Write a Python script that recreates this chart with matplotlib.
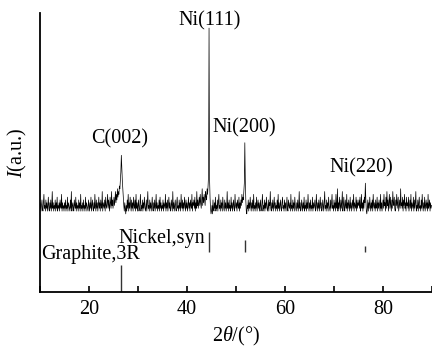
import matplotlib
matplotlib.use('Agg')
import matplotlib.pyplot as plt
import numpy as np

plt.rcParams['font.family'] = ['Liberation Serif', 'DejaVu Serif']
plt.rcParams['mathtext.fontset'] = 'custom'
plt.rcParams['mathtext.rm'] = 'Liberation Serif'
plt.rcParams['mathtext.it'] = 'Liberation Serif:italic'

# XRD pattern, 2theta from 10 to 90 in 0.1 deg steps (one row = 5 deg)
two_theta_start = 10.0
two_theta_step = 0.1
intensity = [
    # 10-15
    30, 32, 29, 31, 33, 30, 29, 32, 35, 30, 31, 29, 33, 30, 32, 29, 31, 34, 30, 29, 32, 30, 33, 29, 31,
    36, 30, 32, 29, 31, 30, 33, 29, 32, 30, 34, 29, 31, 30, 32, 29, 33, 31, 30, 35, 29, 32, 30, 31, 29,
    # 15-20
    32, 30, 33, 29, 31, 30, 34, 29, 32, 31, 30, 29, 33, 30, 36, 29, 31, 32, 30, 29, 33, 31, 30, 34, 29,
    32, 30, 31, 29, 33, 30, 32, 29, 35, 30, 31, 29, 32, 30, 33, 29, 31, 30, 34, 29, 32, 31, 30, 29, 33,
    # 20-25
    31, 29, 32, 30, 34, 29, 31, 33, 30, 29, 32, 30, 35, 31, 29, 33, 30, 32, 29, 31, 34, 30, 32, 29, 33,
    31, 30, 36, 29, 32, 31, 30, 33, 29, 34, 31, 30, 32, 35, 30, 33, 31, 29, 34, 32, 30, 36, 31, 33, 30,
    # 25-30  C(002)
    32, 34, 31, 33, 36, 32, 35, 33, 37, 34, 36, 35, 38, 37, 40, 43, 49, 44, 40, 37, 34, 31, 29, 32, 30,
    28, 31, 29, 33, 30, 35, 29, 32, 30, 34, 31, 29, 33, 30, 32, 29, 34, 31, 30, 33, 29, 35, 30, 32, 29,
    # 30-35
    31, 33, 29, 30, 32, 35, 29, 31, 30, 33, 29, 32, 30, 34, 31, 29, 30, 33, 29, 32, 36, 30, 31, 29, 33,
    30, 32, 29, 31, 34, 30, 29, 32, 30, 33, 29, 31, 35, 30, 32, 29, 31, 30, 33, 29, 34, 30, 32, 29, 31,
    # 35-40
    30, 33, 29, 32, 31, 30, 35, 29, 32, 30, 33, 29, 31, 34, 30, 32, 29, 30, 33, 31, 29, 36, 30, 32, 29,
    31, 33, 30, 29, 32, 34, 30, 31, 29, 33, 30, 32, 29, 35, 31, 30, 33, 29, 32, 30, 34, 31, 29, 33, 30,
    # 40-45  Ni(111)
    32, 29, 31, 34, 30, 32, 29, 33, 31, 30, 35, 29, 32, 31, 33, 30, 34, 29, 32, 30, 36, 31, 33, 30, 32,
    34, 31, 35, 32, 30, 33, 37, 31, 34, 32, 35, 33, 31, 36, 34, 33, 37, 35, 38, 42, 94.6, 41, 34, 30, 28,
    # 45-50
    29, 31, 28, 33, 30, 29, 32, 30, 34, 29, 31, 30, 33, 29, 32, 35, 30, 31, 29, 33, 30, 32, 29, 34, 31,
    30, 29, 33, 30, 32, 29, 31, 36, 30, 32, 29, 33, 30, 31, 29, 34, 30, 32, 29, 31, 33, 30, 29, 35, 31,
    # 50-55  Ni(200)
    30, 32, 29, 33, 31, 30, 34, 29, 32, 30, 33, 31, 35, 32, 34, 33, 36, 39, 53.5, 40, 33, 29, 28, 31, 30,
    33, 29, 32, 30, 34, 31, 29, 32, 30, 33, 29, 35, 30, 31, 29, 32, 30, 34, 29, 31, 33, 30, 32, 29, 31,
    # 55-60
    33, 29, 30, 32, 35, 29, 31, 30, 33, 29, 32, 30, 34, 31, 29, 30, 33, 29, 32, 31, 36, 30, 29, 32, 30,
    33, 29, 31, 34, 30, 32, 29, 31, 30, 33, 29, 35, 30, 32, 29, 31, 33, 30, 29, 32, 34, 30, 31, 29, 33,
    # 60-65
    30, 32, 29, 31, 34, 30, 29, 33, 31, 30, 32, 29, 35, 30, 31, 29, 33, 30, 32, 29, 34, 31, 30, 29, 32,
    30, 33, 29, 31, 36, 30, 32, 29, 30, 33, 31, 29, 32, 30, 34, 29, 31, 30, 33, 29, 32, 30, 35, 31, 29,
    # 65-70
    32, 30, 33, 29, 31, 30, 34, 29, 32, 30, 31, 33, 29, 30, 35, 31, 29, 32, 30, 33, 29, 31, 34, 30, 32,
    29, 30, 33, 31, 29, 32, 36, 30, 31, 29, 33, 30, 32, 29, 34, 31, 30, 29, 33, 30, 32, 35, 30, 31, 29,
    # 70-75
    33, 30, 32, 29, 35, 31, 30, 37, 29, 32, 30, 34, 31, 29, 33, 30, 32, 36, 29, 31, 34, 30, 29, 33, 31,
    30, 35, 29, 32, 30, 33, 31, 29, 34, 30, 32, 29, 31, 33, 30, 35, 29, 32, 31, 30, 34, 29, 33, 30, 32,
    # 75-80  Ni(220)
    31, 33, 30, 34, 29, 31, 35, 30, 32, 29, 33, 30, 34, 32, 39, 33, 29, 28, 30, 33, 29, 32, 30, 34, 31,
    29, 32, 30, 33, 29, 35, 31, 30, 32, 29, 33, 30, 31, 34, 29, 32, 30, 33, 31, 29, 35, 30, 32, 29, 31,
    # 80-85
    33, 30, 35, 31, 32, 29, 34, 30, 36, 31, 33, 29, 32, 35, 30, 34, 31, 29, 33, 30, 36, 32, 31, 34, 30,
    29, 33, 31, 35, 30, 32, 34, 29, 31, 33, 30, 37, 31, 32, 30, 34, 29, 33, 31, 35, 30, 32, 29, 34, 31,
    # 85-90
    32, 30, 34, 29, 31, 33, 30, 35, 29, 32, 31, 30, 34, 29, 33, 30, 32, 36, 29, 31, 30, 33, 29, 32, 34,
    30, 31, 29, 33, 30, 35, 31, 29, 32, 30, 34, 29, 31, 33, 30, 32, 29, 35, 30, 31, 33, 29, 32, 30, 31,
    31,
]
two_theta = two_theta_start + two_theta_step * np.arange(len(intensity))

# reference patterns (stick positions and heights)
nickel_pos = [44.5, 51.8, 76.4]
nickel_base = 14.3
nickel_top = [21.5, 18.6, 16.5]
graphite_pos = [26.6]
graphite_base = 0
graphite_top = [9.7]

peak_labels = ['C(002)', 'Ni(111)', 'Ni(200)', 'Ni(220)']
peak_label_x = [26.3, 44.7, 51.7, 75.5]
peak_label_y = [53.4, 95.7, 57.0, 43.0]

fig = plt.figure(figsize=(4.32, 3.52), dpi=100)
ax = fig.add_axes([40 / 432, 60 / 352, 1 - 40 / 432, 279 / 352])

ax.plot(two_theta, intensity, color='black', lw=0.5)
ax.vlines(nickel_pos, nickel_base, nickel_top, color='#333333', lw=1.0)
ax.vlines(graphite_pos, graphite_base, graphite_top, color='#333333', lw=1.0)

for lab, x, y in zip(peak_labels, peak_label_x, peak_label_y):
    ax.text(x, y, lab, ha='center', va='baseline', fontsize=14.5)
ax.text(43.6, 17.6, 'Nickel,syn', ha='right', va='baseline', fontsize=14.5)
ax.text(10.2, 11.8, 'Graphite,3R', ha='left', va='baseline', fontsize=14.5)

ax.set_xlim(10, 90)
ax.set_ylim(0, 100)
ax.set_xticks([20, 40, 60, 80])
ax.set_xticks([10, 30, 50, 70, 90], minor=True)
ax.tick_params(axis='x', which='both', direction='in', length=4, width=1.2,
               labelsize=14.5, pad=6)
ax.set_yticks([])
for s in ['top', 'right']:
    ax.spines[s].set_visible(False)
for s in ['left', 'bottom']:
    ax.spines[s].set_linewidth(1.3)

ax.set_xlabel(r'2$\it{\theta}$/(°)', fontsize=14.5, labelpad=4)
ax.set_ylabel(r'$\it{I}$(a.u.)', fontsize=14.5, labelpad=8)

fig.savefig('out.png', dpi=100)
